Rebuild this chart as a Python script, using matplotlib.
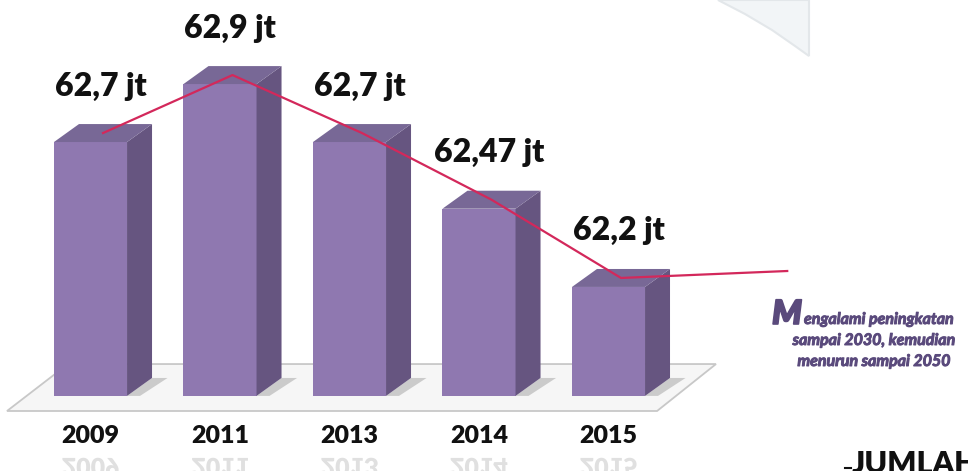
import numpy as np
import matplotlib
matplotlib.use('Agg')
import matplotlib.pyplot as plt
import matplotlib.patheffects as pe
from matplotlib.patches import Polygon, PathPatch
from matplotlib.textpath import TextPath
from matplotlib.font_manager import FontProperties
import matplotlib.transforms as mtrans

# data
years = ['2009', '2011', '2013', '2014', '2015']
values = [62.7, 62.9, 62.7, 62.47, 62.2]
labels = ['62,7 jt', '62,9 jt', '62,7 jt', '62,47 jt', '62,2 jt']
trend_next_x = 5.38      # trend keeps going up after 2015
trend_next_val = 62.255
note_first = 'engalami peningkatan'
note_rest = ['sampai 2030, kemudian', 'menurun sampai 2050']

# style
base = 61.824
W = 0.564
DX, DY = 0.193, 0.062
FRONT, SIDE, TOP = '#8f78b0', '#665580', '#786896'
RED = '#d3285b'
NOTE_C = '#5a4a7c'
bold_font = ['Lato', 'DejaVu Sans']
thick = [pe.withStroke(linewidth=0.7, foreground=NOTE_C)]

fig = plt.figure(figsize=(9.68, 4.71), dpi=100)
ax = fig.add_axes([0, 0, 1, 1])
ax.set_xlim(-0.699, 6.776)
ax.set_ylim(61.565, 63.190)
ax.axis('off')

x = np.arange(len(years))
v = np.array(values)

# floor plate
floor = Polygon([(x[0] - 0.645, base - 0.052), (x[0] - 0.174, base + 0.11),
                 (x[-1] + 0.83, base + 0.11), (x[-1] + 0.375, base - 0.052)],
                closed=True, facecolor='#f6f6f6', edgecolor='#c8c8c8', lw=1.3, zorder=1)
ax.add_patch(floor)

# bars (front faces)
ax.bar(x, v - base, bottom=base, width=W, color=FRONT, zorder=3)

for xi, vi in zip(x, v):
    xl, xr = xi - W / 2, xi + W / 2
    # shadow on the floor
    ax.add_patch(Polygon([(xr, base), (xr + DX, base + DY), (xr + DX + 0.12, base + DY),
                          (xr + 0.1, base)], closed=True, facecolor='#b9b9b9',
                         edgecolor='none', alpha=0.7, zorder=2))
    # side face
    ax.add_patch(Polygon([(xr, base), (xr + DX, base + DY), (xr + DX, vi + DY), (xr, vi)],
                         closed=True, facecolor=SIDE, edgecolor='none', zorder=3))
    # top face
    ax.add_patch(Polygon([(xl, vi), (xl + DX, vi + DY), (xr + DX, vi + DY), (xr, vi)],
                         closed=True, facecolor=TOP, edgecolor='none', zorder=3))

# trend line through the top faces
tx = np.append(x + DX / 2, trend_next_x)
ty = np.append(v + DY / 2, trend_next_val)
ax.plot(tx, ty, color=RED, lw=1.6, zorder=5)

# value labels
for xi, vi, lbl in zip(x, v, labels):
    ax.annotate(lbl, (xi, vi), xytext=(10, 56), textcoords='offset pixels',
                ha='center', va='center', fontsize=23, fontweight='heavy',
                family=bold_font, color='#111111', zorder=6)

# year labels + reflections
fp = FontProperties(family='Lato', weight='heavy', size=18)
for xi, yr in zip(x, years):
    ax.annotate(yr, (xi, base), xytext=(0, -40), textcoords='offset pixels',
                ha='center', va='center', fontsize=18, fontweight='heavy',
                family=bold_font, color='#111111')
    tp = TextPath((0, 0), yr, prop=fp)
    bb = tp.get_extents()
    tr = (mtrans.Affine2D().translate(-(bb.x0 + bb.x1) / 2, 0)
          .scale(1 / 72, -1 / 72).translate(0, -0.62)
          + fig.dpi_scale_trans + mtrans.ScaledTranslation(xi, base, ax.transData))
    fig.add_artist(PathPatch(tp, transform=tr, facecolor='#e0e0e0', edgecolor='none'))

# side note
fig.text(802 / 968, 1 - 324 / 471, 'M', ha='right', va='baseline', fontsize=24,
         fontweight='heavy', fontstyle='italic', family=bold_font, color=NOTE_C,
         path_effects=[pe.withStroke(linewidth=1.2, foreground=NOTE_C)])
fig.text(804 / 968, 1 - 324 / 471, note_first, ha='left', va='baseline', fontsize=11.5,
         fontweight='bold', fontstyle='italic', family=bold_font, color=NOTE_C,
         path_effects=thick)
for i, line in enumerate(note_rest):
    fig.text(874 / 968, 1 - (345 + 21 * i) / 471, line, ha='center', va='baseline',
             fontsize=11.5, fontweight='bold', fontstyle='italic', family=bold_font,
             color=NOTE_C, path_effects=thick)

# cut-off title at the bottom right
fig.text(852 / 968, 1 - 450 / 471, 'JUMLAH', ha='left', va='top', fontsize=22,
         fontweight='heavy', family=bold_font, color='#111111')
fig.add_artist(plt.Line2D([845 / 968, 851 / 968], [1 - 468 / 471, 1 - 468 / 471],
                          color='#111111', lw=1.5))

# faint swoosh at the top right
sw = [(718, 0), (745, 14), (772, 30), (795, 46), (809, 56), (809, 0)]
fig.add_artist(Polygon([(px / 968, 1 - py / 471) for px, py in sw], closed=True,
                       transform=fig.transFigure, facecolor='#f2f5f7',
                       edgecolor='#e3e7ea', lw=1.5))

fig.savefig('out.png', dpi=100)
